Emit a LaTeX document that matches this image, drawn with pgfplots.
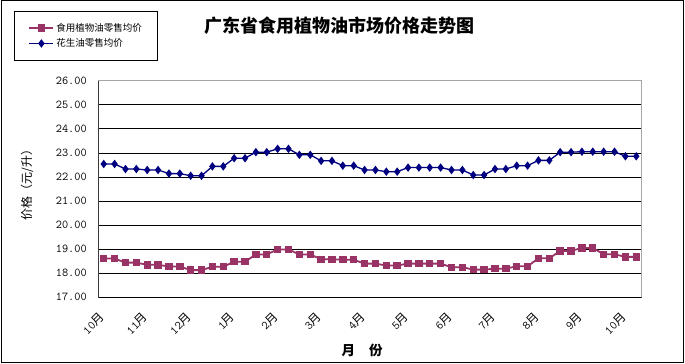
\documentclass[border=0pt]{standalone}
\usepackage{fontspec}
\setmainfont{Noto Sans CJK SC}
\usepackage{pgfplots}
\pgfplotsset{compat=1.18}
\definecolor{plum}{HTML}{993366}
\definecolor{navyb}{HTML}{000080}
\newcommand\m[1]{{\ttfamily #1}月}
\begin{document}
\begin{tikzpicture}
\useasboundingbox (-98.3bp,-66.7bp) rectangle (586.7bp,297.3bp);
\draw[line width=1bp] (-96.3bp,-64.7bp) rectangle (584.7bp,296.3bp);
\begin{axis}[
 at={(0,0)}, anchor=south west,
 scale only axis, width=543.4bp, height=216.6bp,
 xmin=-0.5, xmax=49.5, ymin=17, ymax=26,
 ytick={17,...,26},
 xtick={0,4,...,48},
 xticklabels={\m{10},\m{11},\m{12},\m{1},\m{2},\m{3},\m{4},\m{5},\m{6},\m{7},\m{8},\m{9},\m{10}},
 minor xtick={-0.5,0.5,...,49.5},
 xtick pos=left, ytick pos=left,
 tick align=inside,
 xtick style={draw=none},
 minor x tick style={black, line width=0.8bp},
 minor tick length=5bp,
 major tick length=3bp,
 ytick style={black, line width=0.8bp},
 ymajorgrids,
 major grid style={black, line width=0.8bp},
 axis line style={gray!70, line width=0.8bp},
 /pgf/number format/assume math mode=true,
 yticklabel style={font=\fontsize{12bp}{12bp}\ttfamily, /pgf/number format/.cd, fixed, fixed zerofill, precision=2},
 yticklabel shift=8bp,
 xticklabel style={rotate=45, anchor=east, inner sep=0pt, xshift=-13.6bp, yshift=-11.3bp, font=\fontsize{12bp}{12bp}\selectfont},
 title={广东省食用植物油市场价格走势图},
 title style={at={(0.4448,1.2262)}, anchor=center, font=\fontsize{18bp}{18bp}\selectfont\bfseries},
 ylabel={价格（元/升）},
 ylabel style={at={(-0.1312,0.5323)}, anchor=center, font=\fontsize{12bp}{12bp}\selectfont},
 xlabel={月\hspace{14bp}份},
 xlabel style={at={(0.4853,-0.2433)}, anchor=center, font=\fontsize{13.5bp}{14bp}\selectfont\bfseries},
 legend style={at={(-0.1551,1.3232)}, anchor=north west, draw=black, line width=1bp,
   font=\fontsize{9.5bp}{11bp}\selectfont, inner xsep=14bp, inner ysep=10bp, row sep=2bp,
   cells={anchor=west}},
 legend image code/.code={\draw[mark repeat=2,mark phase=2,#1] plot coordinates {(0bp,0bp) (12bp,0bp) (24bp,0bp)};},
]
\addplot[color=plum, line width=1.8bp, mark=square*, mark size=2.8bp] coordinates {
(0,18.61)(1,18.61)(2,18.44)(3,18.44)(4,18.35)(5,18.35)(6,18.28)(7,18.28)(8,18.13)(9,18.13)
(10,18.27)(11,18.27)(12,18.48)(13,18.48)(14,18.78)(15,18.78)(16,18.99)(17,18.99)(18,18.78)(19,18.78)
(20,18.58)(21,18.58)(22,18.56)(23,18.56)(24,18.40)(25,18.40)(26,18.32)(27,18.32)(28,18.40)(29,18.40)
(30,18.40)(31,18.40)(32,18.25)(33,18.25)(34,18.15)(35,18.15)(36,18.19)(37,18.19)(38,18.29)(39,18.29)
(40,18.62)(41,18.62)(42,18.93)(43,18.93)(44,19.05)(45,19.05)(46,18.79)(47,18.79)(48,18.68)(49,18.68)};
\addlegendentry{食用植物油零售均价}
\addplot[color=navyb, line width=1.3bp, mark=diamond*, mark size=3.2bp] coordinates {
(0,22.54)(1,22.54)(2,22.33)(3,22.33)(4,22.29)(5,22.29)(6,22.14)(7,22.14)(8,22.05)(9,22.05)
(10,22.44)(11,22.44)(12,22.78)(13,22.78)(14,23.03)(15,23.03)(16,23.17)(17,23.17)(18,22.92)(19,22.92)
(20,22.67)(21,22.67)(22,22.47)(23,22.47)(24,22.29)(25,22.29)(26,22.22)(27,22.22)(28,22.39)(29,22.39)
(30,22.39)(31,22.39)(32,22.29)(33,22.29)(34,22.08)(35,22.08)(36,22.33)(37,22.33)(38,22.47)(39,22.47)
(40,22.69)(41,22.69)(42,23.03)(43,23.03)(44,23.05)(45,23.05)(46,23.05)(47,23.05)(48,22.86)(49,22.86)};
\addlegendentry{花生油零售均价}
\draw[gray!70, line width=0.8bp] (rel axis cs:0,1) -- (rel axis cs:1,1);
\draw[black, line width=0.9bp] (rel axis cs:0,1) -- (rel axis cs:0,0) -- (rel axis cs:1,0);
\end{axis}
\end{tikzpicture}
\end{document}
